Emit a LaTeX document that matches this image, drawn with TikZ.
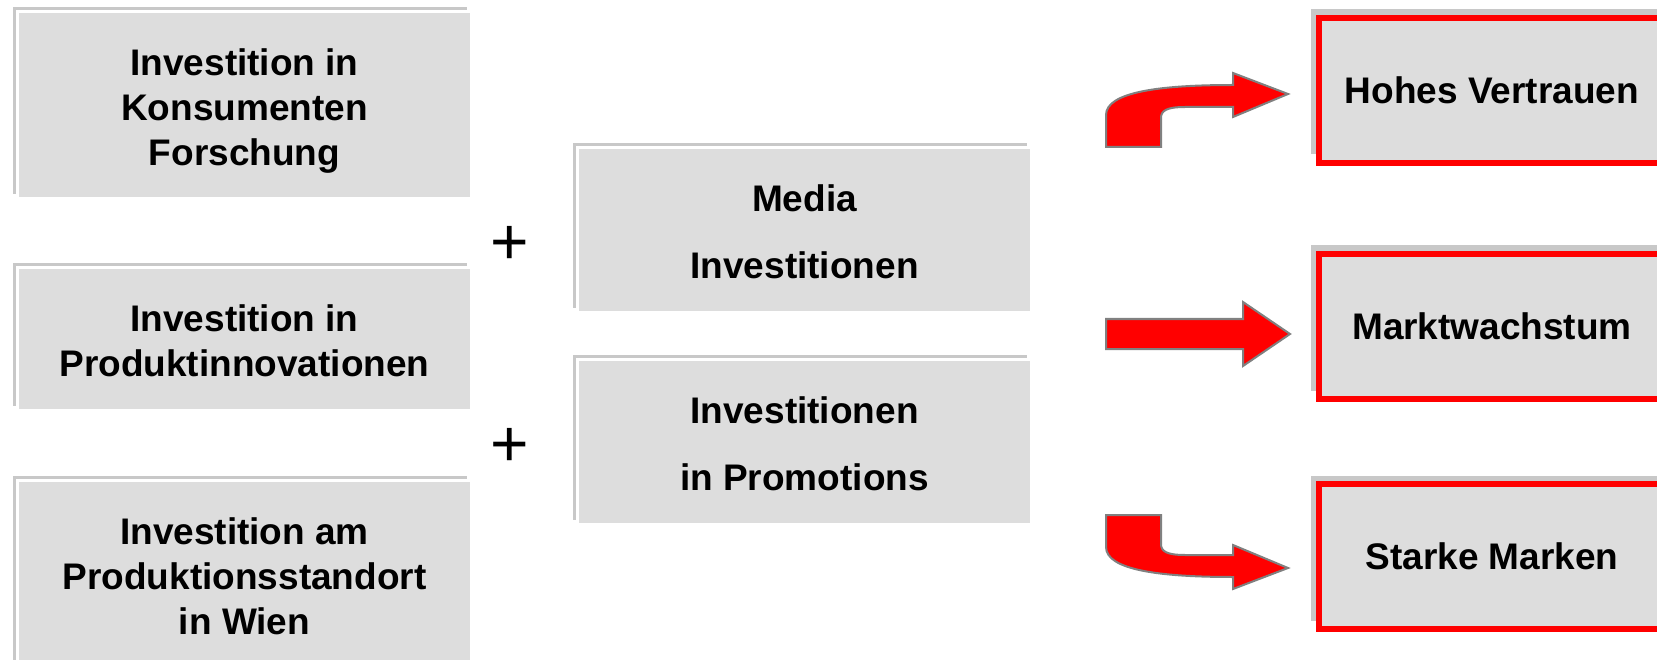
\documentclass[tikz,border=0pt]{standalone}
\usepackage{fontspec}
\setmainfont{Liberation Sans}
\usetikzlibrary{shadows}
\definecolor{boxfill}{HTML}{DDDDDD}
\definecolor{shadowgray}{HTML}{C8C8C8}
\definecolor{arrowedge}{HTML}{808080}
\definecolor{pred}{HTML}{FF0000}
\newcommand{\tfix}{\rule{0pt}{30.5pt}}
\begin{document}
\begin{tikzpicture}[x=1pt,y=-1pt,
  graybox/.style={rectangle, inner sep=0pt, fill=boxfill, draw=white, line width=3pt,
    minimum width=454pt, align=center, font=\bfseries\fontsize{37}{45}\selectfont,
    general shadow={fill=shadowgray, shadow xshift=-4.5pt, shadow yshift=4.5pt}},
  midbox/.style={graybox, minimum height=165pt, font=\bfseries\fontsize{37}{67}\selectfont},
  redbox/.style={rectangle, inner sep=0pt, fill=boxfill, draw=pred, line width=6pt,
    minimum width=346pt, minimum height=145pt, font=\bfseries\fontsize{37}{45}\selectfont,
    general shadow={fill=shadowgray, shadow xshift=-8pt, shadow yshift=8.5pt}},
  blockarrow/.style={fill=pred, draw=arrowedge, line width=2pt, line join=miter},
  plussign/.style={font=\fontsize{66}{66}\selectfont, inner sep=0pt}]
\useasboundingbox (0,0) rectangle (1657,660);

% left column
\node[graybox, minimum height=187pt] (cons) at (244.5,105) {\tfix Investition in\\Konsumenten\\\smash{Forschung}};
\node[graybox, minimum height=143pt] (prod) at (244.5,339) {\tfix Investition in\\Produktinnovationen};
\node[graybox, minimum height=187pt] (wien) at (244.5,574) {\tfix Investition am\\Produktionsstandort\\in Wien};

% plus signs
\node[plussign] (plus1) at (510,245.5) {+};
\node[plussign] (plus2) at (510,447.5) {+};

% middle column
\node[midbox] (media) at (804.5,230) {\tfix Media\\Investitionen};
\node[midbox] (promo) at (804.5,442) {\tfix Investitionen\\in Promotions};

% right column
\node[redbox] (trust) at (1492,90.5) {Hohes Vertrauen};
\node[redbox] (growth) at (1492,326.5) {Marktwachstum};
\node[redbox] (brand) at (1492,556.5) {Starke Marken};

% block arrows
\draw[blockarrow] (1106,147) -- (1106,115) .. controls (1106,92) and (1160,85) .. (1233,85)
  -- (1233,73) -- (1288,94) -- (1233,117) -- (1233,107) -- (1185,107)
  .. controls (1166,107) and (1161,111) .. (1161,118) -- (1161,147) -- cycle;
\draw[blockarrow] (1106,319) -- (1243,319) -- (1243,302) -- (1290,334) -- (1243,366)
  -- (1243,349) -- (1106,349) -- cycle;
\draw[blockarrow] (1106,515) -- (1106,547) .. controls (1106,570) and (1160,577) .. (1233,577)
  -- (1233,589) -- (1288,568) -- (1233,545) -- (1233,555) -- (1185,555)
  .. controls (1166,555) and (1161,551) .. (1161,544) -- (1161,515) -- cycle;
\end{tikzpicture}
\end{document}
